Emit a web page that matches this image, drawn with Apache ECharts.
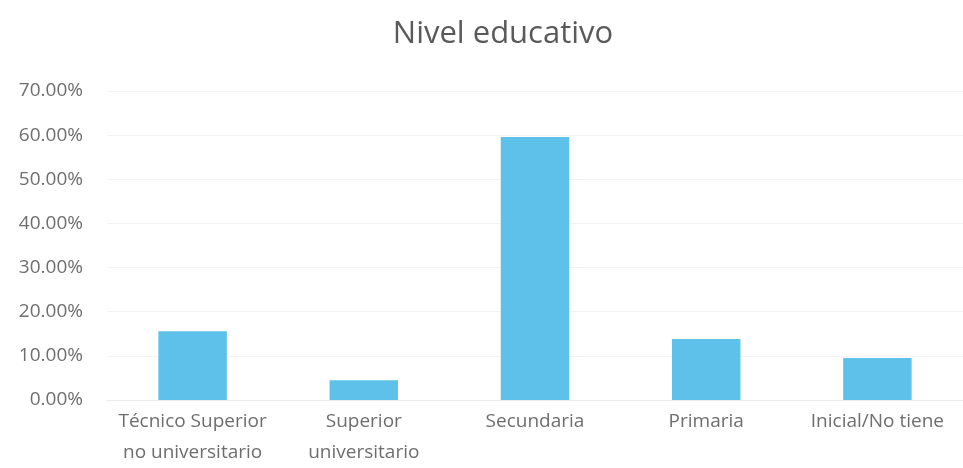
<!DOCTYPE html>
<html>
<head>
<meta charset="utf-8">
<script src="https://cdn.jsdelivr.net/npm/echarts@6/dist/echarts.min.js"></script>
<style>
html,body{margin:0;padding:0;background:#fff;}
#chart{width:963px;height:468px;}
</style>
</head>
<body>
<div id="chart"></div>
<script>
var categories = ['Técnico Superior\nno universitario', 'Superior\nuniversitario', 'Secundaria', 'Primaria', 'Inicial/No tiene'];
var values = [15.6, 4.5, 59.6, 13.8, 9.5];
var yTicks = [0, 10, 20, 30, 40, 50, 60, 70];

var chart = echarts.init(document.getElementById('chart'));
chart.setOption({
  backgroundColor: '#ffffff',
  animation: false,
  title: {
    text: 'Nivel educativo',
    left: 498,
    textAlign: 'center',
    top: 14,
    textStyle: {fontFamily: 'Open Sans', fontSize: 31, fontWeight: 'normal', color: '#5a5a5a'}
  },
  grid: {left: 107, right: -10, top: 91, bottom: 67},
  xAxis: {
    type: 'category',
    data: categories,
    axisTick: {show: false},
    axisLine: {lineStyle: {color: '#ececec'}},
    axisLabel: {fontFamily: 'Open Sans', fontSize: 19, color: '#6e6e6e', margin: 6, lineHeight: 31, interval: 0}
  },
  yAxis: {
    type: 'value',
    min: yTicks[0],
    max: yTicks[yTicks.length - 1],
    interval: 10,
    axisLine: {show: false},
    axisTick: {show: false},
    splitLine: {lineStyle: {color: '#f3f3f3'}},
    axisLabel: {
      fontFamily: 'Open Sans', fontSize: 19, color: '#6e6e6e', margin: 24,
      formatter: function (v) { return v.toFixed(2) + '%'; }
    }
  },
  series: [{
    type: 'bar',
    data: values,
    barWidth: '40%',
    itemStyle: {color: '#5ec1ea'}
  }]
});
</script>
</body>
</html>
